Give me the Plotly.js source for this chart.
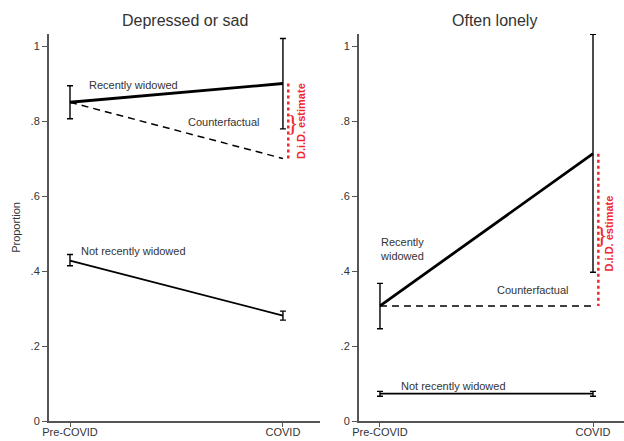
<!DOCTYPE html>
<html><head><meta charset="utf-8">
<script src="https://cdn.plot.ly/plotly-3.0.1.min.js"></script>
<style>html,body{margin:0;padding:0;background:#fff}</style>
</head><body><div id="chart" style="width:624px;height:441px"></div>
<script>
const periods = ["Pre-COVID", "COVID"];
const panelTitles = ["Depressed or sad", "Often lonely"];
const yTickVals = [0, 0.2, 0.4, 0.6, 0.8, 1];
const yTickText = ["0", ".2", ".4", ".6", ".8", "1"];

// Depressed or sad
const depWidowed = [0.850, 0.900];
const depWidowedLo = [0.806, 0.779];
const depWidowedHi = [0.894, 1.020];
const depCounterfactual = [0.850, 0.700];
const depNotWidowed = [0.4275, 0.281];
const depNotWidowedLo = [0.414, 0.269];
const depNotWidowedHi = [0.444, 0.293];

// Often lonely
const lonWidowed = [0.307, 0.713];
const lonWidowedLo = [0.246, 0.3965];
const lonWidowedHi = [0.367, 1.031];
const lonCounterfactual = [0.307, 0.307];
const lonNotWidowed = [0.073, 0.073];
const lonNotWidowedLo = [0.066, 0.066];
const lonNotWidowedHi = [0.079, 0.079];

const labels = ["Recently widowed", "Counterfactual", "Not recently widowed", "Recently<br>widowed", "D.i.D. estimate"];

const FONT = "Liberation Sans, Arial, sans-serif";
const TXT = "#333333";
const RED = "#f0282d";

function err(v, lo, hi) {
  return {type: 'data', symmetric: false,
    array: v.map((d, i) => hi[i] - d), arrayminus: v.map((d, i) => d - lo[i]),
    color: '#000', thickness: 1.4, width: 3};
}
const X = [0, 1];
function panel(xa, ya, w, wlo, whi, cf, nw, nwlo, nwhi) {
  return [
    {x: X, y: cf, xaxis: xa, yaxis: ya, mode: 'lines', line: {color: '#000', width: 1.5, dash: '7px,5px'}, hoverinfo: 'skip'},
    {x: X, y: nw, xaxis: xa, yaxis: ya, mode: 'lines', line: {color: '#000', width: 1.8}, error_y: err(nw, nwlo, nwhi)},
    {x: X, y: w, xaxis: xa, yaxis: ya, mode: 'lines', line: {color: '#000', width: 2.8}, error_y: err(w, wlo, whi)},
    {x: [1.025, 1.025], y: [w[1], cf[1]], xaxis: xa, yaxis: ya, mode: 'lines', line: {color: RED, width: 2.5, dash: 'dot'}}
  ];
}
const data = [
  ...panel('x', 'y', depWidowed, depWidowedLo, depWidowedHi, depCounterfactual, depNotWidowed, depNotWidowedLo, depNotWidowedHi),
  ...panel('x2', 'y2', lonWidowed, lonWidowedLo, lonWidowedHi, lonCounterfactual, lonNotWidowed, lonNotWidowedLo, lonNotWidowedHi)
];

function xax(domain, range) {
  return {domain: domain, range: range, tickvals: X, ticktext: periods, showgrid: false, zeroline: false,
    showline: true, linecolor: '#555', linewidth: 2, ticks: 'outside', ticklen: 4, tickcolor: '#555', tickwidth: 1,
    ticklabelstandoff: -4,
    tickfont: {family: FONT, size: 11, color: TXT}, fixedrange: true};
}
function yax(anchor) {
  return {anchor: anchor, range: [0, 1.032], tickvals: yTickVals, ticktext: yTickText, showgrid: false, zeroline: false,
    showline: true, linecolor: '#555', linewidth: 2, ticks: 'outside', ticklen: 5, tickcolor: '#555', tickwidth: 1,
    tickfont: {family: FONT, size: 11, color: TXT}};
}
function ann(xr, yr, text, x, y, opts) {
  return Object.assign({xref: xr, yref: yr, x: x, y: y, text: text, showarrow: false,
    font: {family: FONT, size: 11, color: TXT}, xanchor: 'center', yanchor: 'middle'}, opts || {});
}
const BRACE = {family: "Liberation Serif, serif", size: 24, color: RED};
const annotations = [
  ann('x', 'y', labels[0], 0.298, 0.896),
  ann('x', 'y', labels[1], 0.725, 0.797),
  ann('x', 'y', labels[2], 0.30, 0.453),
  ann('x', 'y', '}', 1.045, 0.795, {font: BRACE}),
  ann('x', 'y', '<b>' + labels[4] + '</b>', 1.085, 0.80, {textangle: -90, font: {family: FONT, size: 11, color: RED}}),
  ann('x2', 'y2', labels[3], -0.01, 0.459, {xanchor: 'left', align: 'left'}),
  ann('x2', 'y2', labels[1], 0.72, 0.349),
  ann('x2', 'y2', labels[2], 0.345, 0.093),
  ann('x2', 'y2', '}', 1.04, 0.496, {font: BRACE}),
  ann('x2', 'y2', '<b>' + labels[4] + '</b>', 1.075, 0.50, {textangle: -90, font: {family: FONT, size: 11, color: RED}}),
  ann('paper', 'paper', panelTitles[0], 0.2357, 1, {yanchor: 'bottom', yshift: 3, font: {family: FONT, size: 16, color: TXT}}),
  ann('paper', 'paper', panelTitles[1], 0.7748, 1, {yanchor: 'bottom', yshift: 3, font: {family: FONT, size: 16, color: TXT}})
];

const layout = {
  width: 624, height: 441, margin: {l: 49, r: 0, t: 34, b: 20},
  paper_bgcolor: '#fff', plot_bgcolor: '#fff', showlegend: false,
  font: {family: FONT, color: TXT},
  xaxis: xax([0, 0.4713], [-0.0986, 1.174]),
  yaxis: Object.assign(yax('x'), {title: {text: 'Proportion', font: {family: FONT, size: 11, color: TXT}, standoff: 8}}),
  xaxis2: xax([0.5391, 1], [-0.0986, 1.1455]),
  yaxis2: yax('x2'),
  annotations: annotations
};
layout.xaxis.anchor = 'y';
layout.xaxis2.anchor = 'y2';
Plotly.newPlot('chart', data, layout, {displayModeBar: false, staticPlot: true});
</script></body></html>
